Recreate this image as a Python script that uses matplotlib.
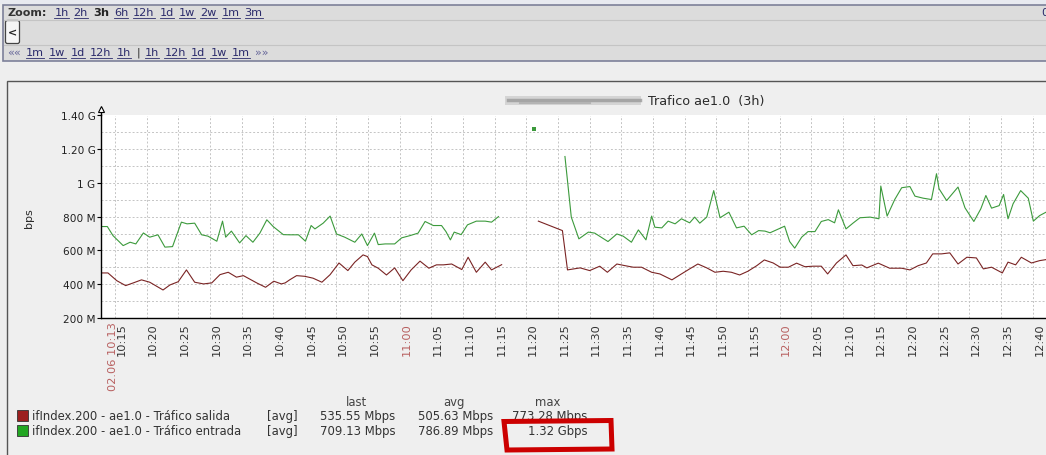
import numpy as np
import matplotlib
matplotlib.use('Agg')
import matplotlib.pyplot as plt
from matplotlib.patches import Rectangle, Polygon, FancyBboxPatch
from matplotlib.transforms import ScaledTranslation, blended_transform_factory

# time in minutes after 10:00, traffic in Mbps
nan = np.nan
in_t = [12.9, 13.8, 14.7, 16.3, 17.4, 18.3, 19.5, 20.5, 21.8, 22.9, 24.1, 25.5, 26.4, 27.6,
        28.7, 29.7, 31.1, 32.0, 32.5, 33.4, 34.7, 35.7, 36.8, 37.9, 39.0, 40.0, 41.6, 42.6,
        44.0, 45.1, 46.0, 46.6, 47.9, 49.0, 50.0, 51.3, 52.9, 54.0, 54.9, 56.0, 56.6, 57.7,
        59.2, 60.3, 61.6, 62.9, 64.0, 65.3, 66.6, 67.3, 68.0, 68.6, 69.7, 70.7, 72.1, 73.5,
        74.5, 75.6, nan,
        86.1, 87.1, 88.3, 89.8, 90.8, 92.9, 94.3, 95.3, 96.6, 97.7, 98.9, 99.8, 100.3, 101.4,
        102.4, 103.5, 104.5, 105.8, 106.6, 107.4, 108.5, 109.6, 110.6, 112.0, 113.2, 114.4,
        115.6, 116.7, 117.7, 118.5, 120.8, 121.6, 122.4, 123.5, 124.5, 125.6, 126.6, 127.7,
        128.7, 129.3, 130.5, 131.6, 132.7, 134.3, 135.7, 136.0, 137.0, 138.2, 139.3, 140.6,
        141.4, 142.7, 144.0, 144.8, 145.2, 146.4, 148.2, 149.3, 150.7, 151.8, 152.6, 153.5,
        154.7, 155.4, 156.1, 156.9, 158.1, 159.3, 160.1, 161.1, 162.1, 162.8]
in_v = [742, 742, 688, 629, 649, 639, 704, 679, 693, 620, 623, 768, 758, 762,
        693, 685, 655, 774, 679, 715, 645, 688, 649, 703, 782, 742, 694, 693,
        693, 655, 748, 728, 762, 804, 698, 679, 649, 698, 629, 703, 635, 639,
        639, 675, 688, 703, 772, 748, 748, 712, 663, 709, 694, 752, 774, 774,
        768, 801, nan,
        1157, 798, 669, 709, 703, 653, 698, 685, 649, 722, 663, 804, 738, 734,
        774, 758, 788, 764, 798, 762, 798, 955, 794, 827, 734, 744,
        693, 718, 715, 705, 744, 653, 614, 679, 712, 712, 772, 783,
        764, 841, 728, 762, 794, 798, 788, 982, 804, 902, 972, 979,
        922, 910, 902, 1055, 966, 896, 976, 853, 772, 847, 926, 851,
        866, 932, 788, 877, 955, 910, 774, 807, 827, 835]

out_t = [12.9, 13.9, 15.3, 16.7, 17.9, 19.2, 20.5, 22.6, 23.7, 25.0, 26.3, 27.6, 29.0, 30.3,
         31.6, 32.9, 34.2, 35.3, 37.4, 38.8, 40.1, 41.3, 41.9, 42.6, 43.7, 45.0, 46.3, 47.7,
         49.0, 50.4, 51.8, 52.9, 54.2, 54.9, 55.6, 56.6, 57.9, 59.2, 60.5, 61.8, 63.2, 64.6,
         65.8, 66.9, 68.2, 69.8, 70.8, 72.1, 73.5, 74.5, 76.1, nan,
         81.9, 85.7, 86.5, 88.5, 90.0, 91.6, 92.8, 94.3, 95.6, 96.9, 98.2, 99.8, 101.1, 103.0,
         104.5, 105.8, 107.1, 108.5, 109.8, 111.1, 112.4, 113.7, 115.0, 116.4, 117.6, 119.0,
         120.1, 121.4, 122.7, 124.0, 125.3, 126.6, 127.6, 129.0, 130.5, 131.6, 133.0, 133.8,
         135.6, 137.4, 139.3, 140.6, 141.9, 143.2, 144.2, 145.6, 146.9, 148.2, 149.6, 151.1,
         152.2, 153.5, 155.2, 156.1, 157.3, 158.2, 159.8, 161.1, 162.1, 162.8]
out_v = [467, 467, 421, 392, 408, 426, 412, 366, 396, 415, 485, 412, 402, 408,
         457, 471, 442, 451, 408, 382, 418, 402, 408, 426, 451, 447, 436, 412,
         457, 526, 481, 531, 574, 564, 515, 495, 455, 497, 421, 485, 537, 495,
         515, 515, 520, 487, 560, 471, 531, 485, 516, nan,
         774, 718, 485, 497, 481, 507, 471, 520, 510, 501, 501, 471, 461, 426,
         461, 491, 520, 497, 471, 477, 471, 455, 477, 510, 544, 526,
         501, 501, 525, 504, 507, 507, 461, 526, 574, 510, 514, 497,
         525, 495, 495, 485, 510, 526, 580, 580, 586, 520, 560, 556,
         491, 501, 467, 531, 515, 560, 526, 540, 546, 546]

dot_t = [81.2]
dot_v = [1322]

t_start, t_end = 12.8, 162.1
tick_min = [15, 20, 25, 30, 35, 40, 45, 50, 55, 60, 65, 70, 75, 80, 85, 90, 95, 100, 105,
            110, 115, 120, 125, 130, 135, 140, 145, 150, 155, 160]
tick_lbl = ['10:15', '10:20', '10:25', '10:30', '10:35', '10:40', '10:45', '10:50', '10:55',
            '11:00', '11:05', '11:10', '11:15', '11:20', '11:25', '11:30', '11:35', '11:40',
            '11:45', '11:50', '11:55', '12:00', '12:05', '12:10', '12:15', '12:20', '12:25',
            '12:30', '12:35', '12:40']
hour_lbl = ['11:00', '12:00']
start_lbl = '02.06 10:13'

y_ticks = [200, 400, 600, 800, 1000, 1200, 1400]
y_lbl = ['200 M', '400 M', '600 M', '800 M', '1 G', '1.20 G', '1.40 G']

leg_names = ['ifIndex.200 - ae1.0 - Tráfico salida', 'ifIndex.200 - ae1.0 - Tráfico entrada']
leg_last = ['535.55 Mbps', '709.13 Mbps']
leg_avg = ['505.63 Mbps', '786.89 Mbps']
leg_max = ['773.28 Mbps', '1.32 Gbps']

zoom_links = ['1h', '2h', '3h', '6h', '12h', '1d', '1w', '2w', '1m', '3m']
nav_links = ['««', '1m', '1w', '1d', '12h', '1h', '|', '1h', '12h', '1d', '1w', '1m', '»»']

RED_LINE = '#7a2424'
GREEN_LINE = '#3c9a3c'
RED_BOX = '#9c2020'
GREEN_BOX = '#22a622'
TXT = '#2a2a2a'
LINK = '#2b2b6b'
FS = 8.4  # legend / axis text

W, H = 1046, 456
fig = plt.figure(figsize=(W / 100, H / 100), dpi=100)
fig.patch.set_facecolor('#eeeeee')

# background layer in pixel coordinates
bg = fig.add_axes([0, 0, 1, 1])
bg.set_xlim(0, W)
bg.set_ylim(H, 0)
bg.axis('off')

# toolbar
bg.add_patch(Rectangle((0, 0), W, 5, fc='#e8eaf0', ec='none'))
bg.add_patch(Rectangle((3, 5.5), W, 56, fc='#dcdcdc', ec='#7c8099', lw=1.2))
grad = np.linspace(1.0, 0.9, 50).reshape(-1, 1)
bg.imshow(grad, cmap='gray', vmin=0, vmax=1, extent=[4, W, 46, 21], aspect='auto')
bg.plot([4, W], [20.5, 20.5], color='#c4c4c4', lw=0.8)
bg.plot([4, W], [46, 46], color='#c4c4c4', lw=0.8)
bg.add_patch(FancyBboxPatch((5.5, 21.5), 14, 23, boxstyle='round,pad=0,rounding_size=2',
                            fc='#f6f6f6', ec='#444444', lw=0.9))
bg.text(12.5, 33, '<', ha='center', va='center', fontsize=8, fontweight='bold', color='#222222')
bg.text(1041, 13.5, '0', ha='left', va='center', fontsize=8, color=LINK)

r = fig.canvas.get_renderer()


def link_row(items, x, y, gap, bold=None):
    for lab in items:
        plain = lab in ('««', '»»', '|')
        weight = 'bold' if lab == bold else 'normal'
        col = '#222222' if (lab == bold or lab == '|') else LINK
        if plain and lab != '|':
            col = '#666699'
        t = bg.text(x, y, lab, ha='left', va='center', fontsize=8.1, color=col, fontweight=weight)
        bb = t.get_window_extent(r)
        if not plain and lab != bold:
            bg.plot([bb.x0, bb.x1], [y + 5.5, y + 5.5], color=LINK, lw=0.6)
        x = bb.x1 + gap


tz = bg.text(7, 13.5, 'Zoom:', ha='left', va='center', fontsize=8, fontweight='bold', color='#333333')
link_row(zoom_links, tz.get_window_extent(r).x1 + 8, 13.5, 5.0, bold='3h')
link_row(nav_links, 7, 53, 5.2)

# graph panel
bg.add_patch(Rectangle((7, 82), W, 400, fc='#efefef', ec='#555555', lw=1.0))

# title with blurred host name
bg.add_patch(Rectangle((505, 96.5), 136, 9, fc='#d4d4d4', ec='none'))
bg.plot([508, 640], [101, 101], color='#9a9a9a', lw=2.5, alpha=0.8)
bg.plot([520, 590], [103.5, 103.5], color='#b4b4b4', lw=1.5)
bg.text(648, 101.5, 'Trafico ae1.0  (3h)', ha='left', va='center', fontsize=9.2, color=TXT)
bg.text(29, 218, 'bps', ha='center', va='center', rotation=90, fontsize=8, color=TXT)

# legend
bg.text(356, 403, 'last', ha='center', va='center', fontsize=FS, color='#444444')
bg.text(454, 403, 'avg', ha='center', va='center', fontsize=FS, color='#444444')
bg.text(548, 403, 'max', ha='center', va='center', fontsize=FS, color='#444444')
for i, col in enumerate([RED_BOX, GREEN_BOX]):
    y = 417 + 15 * i
    bg.add_patch(Rectangle((17, y - 5.5), 11, 11, fc=col, ec='#333333', lw=0.6))
    bg.text(32, y, leg_names[i], ha='left', va='center', fontsize=FS, color='#333333')
    bg.text(267, y, '[avg]', ha='left', va='center', fontsize=FS, color='#333333')
    bg.text(395, y, leg_last[i], ha='right', va='center', fontsize=FS, color='#333333')
    bg.text(493, y, leg_avg[i], ha='right', va='center', fontsize=FS, color='#333333')
    bg.text(587, y, leg_max[i], ha='right', va='center', fontsize=FS, color='#333333')

# red hand-drawn box round the max value
bg.add_patch(Polygon([(504, 422.5), (611, 421.5), (612, 450), (507, 451)], closed=True,
                     fill=False, ec='#cc0000', lw=3.6, joinstyle='miter', zorder=5))

# plot area
top_px, bot_px, left_px = 116.5, 319, 101
ax = fig.add_axes([left_px / W, (H - bot_px) / H, (W - left_px) / W, (bot_px - top_px) / H])
ax.set_facecolor('white')
ax.plot(out_t, out_v, color=RED_LINE, lw=0.8)
ax.plot(in_t, in_v, color=GREEN_LINE, lw=0.8)
ax.plot(dot_t, dot_v, 's', color=GREEN_LINE, ms=3, mew=0)
ax.set_xlim(t_start, t_end)
ax.set_ylim(200, 1400)

ax.set_yticks(y_ticks)
ax.set_yticklabels(y_lbl, fontsize=7.6, color='#222222')
ax.set_yticks(np.arange(300, 1400, 200), minor=True)
ax.tick_params(axis='y', which='major', length=3, width=0.8, direction='out', pad=1)
ax.tick_params(axis='y', which='minor', length=0)
ax.set_xticks(tick_min)
ax.set_xticklabels(tick_lbl, rotation=90, fontsize=8.2, color='#333333')
ax.tick_params(axis='x', length=0, pad=3)
shift = ScaledTranslation(0.066, 0, fig.dpi_scale_trans)
for lab in ax.get_xticklabels():
    lab.set_transform(lab.get_transform() + shift)
    if lab.get_text() in hour_lbl:
        lab.set_color('#b86060')
ax.text(t_start, 0, start_lbl, rotation=90, ha='center', va='top', fontsize=8.2, color='#b86060',
        transform=blended_transform_factory(ax.transData, ax.transAxes)
        + ScaledTranslation(0.115, -0.03, fig.dpi_scale_trans), clip_on=False)

ax.grid(True, which='both', axis='y', color='#c4c4c4', ls=(0, (2, 2)), lw=0.7)
ax.grid(True, which='major', axis='x', color='#c4c4c4', ls=(0, (2, 2)), lw=0.7)
for s in ['top', 'right']:
    ax.spines[s].set_visible(False)
for s in ['left', 'bottom']:
    ax.spines[s].set_color('black')
    ax.spines[s].set_linewidth(1.0)
# arrow on top of the value axis
ax.plot([t_start, t_start], [1400, 1430], color='black', lw=1.0, clip_on=False)
ax.plot([t_start], [1440], marker='^', ms=5, mfc='white', mec='black', mew=0.8, clip_on=False)

fig.savefig('out.png', dpi=100, facecolor=fig.get_facecolor())
